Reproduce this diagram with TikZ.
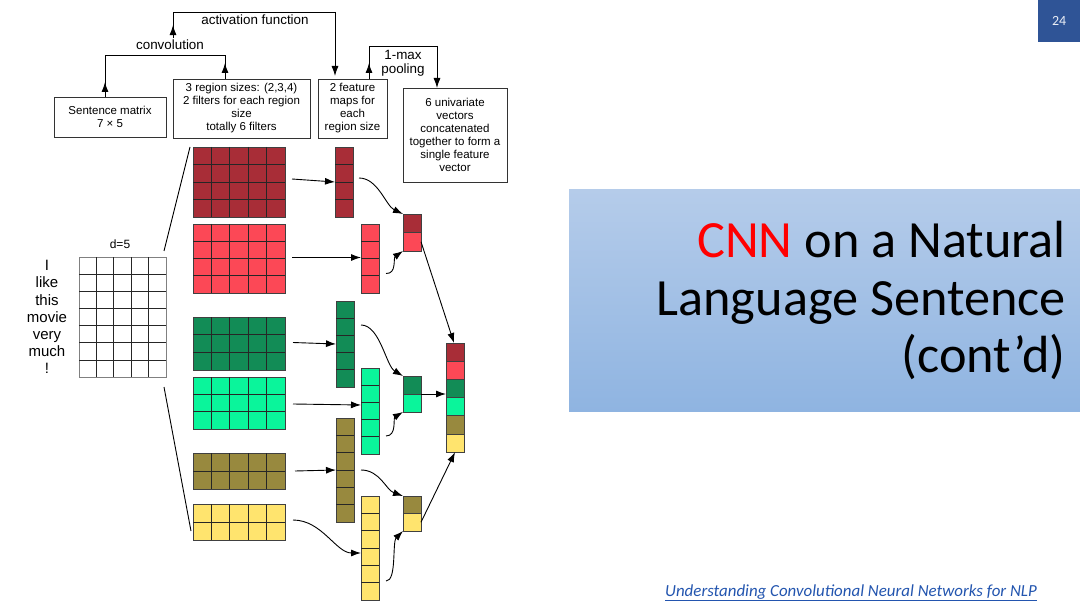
\documentclass[tikz,border=0pt]{standalone}
\usepackage{fontspec}
\setmainfont{Liberation Sans}
\newfontfamily\calib{Carlito}
\usetikzlibrary{arrows.meta,calc,shadings}
\definecolor{dred}{RGB}{168,45,55}
\definecolor{lred}{RGB}{252,72,86}
\definecolor{dgreen}{RGB}{18,140,86}
\definecolor{lgreen}{RGB}{10,245,155}
\definecolor{olive}{RGB}{152,137,62}
\definecolor{yell}{RGB}{255,228,110}
\definecolor{pnblue}{RGB}{47,84,150}
\definecolor{boxtop}{RGB}{181,204,234}
\definecolor{boxbot}{RGB}{143,180,225}
\definecolor{linkblue}{RGB}{35,85,175}
\definecolor{cnnred}{RGB}{255,0,0}
\newcommand\boxfont{\fontsize{11.5}{13}\selectfont}
\newcommand\lblfont{\fontsize{13.4}{17}\selectfont}
\newcommand\titlefont{\calib\fontsize{52.3}{57}\selectfont}
\newcommand\linkfont{\calib\itshape\fontsize{16.9}{19}\selectfont}
\newcommand\rowsplit[2]{\foreach \k in {1,...,#2}{\ifnum\k<#2\relax
  \draw[cellline] ($(#1.north west)!\k/#2!(#1.south west)$) -- ($(#1.north east)!\k/#2!(#1.south east)$);\fi}}
\newcommand\colsplit[2]{\foreach \k in {1,...,#2}{\ifnum\k<#2\relax
  \draw[cellline] ($(#1.north west)!\k/#2!(#1.north east)$) -- ($(#1.south west)!\k/#2!(#1.south east)$);\fi}}
\begin{document}
\begin{tikzpicture}[x=1pt,y=-1pt,
  box/.style={draw=black!80, line width=0.8pt, align=center, inner sep=0pt, outer sep=0pt, anchor=north west, font=\boxfont},
  lbl/.style={font=\lblfont, inner sep=2pt, align=center},
  conn/.style={draw=black, line width=0.9pt},
  arr/.style={conn, -{Latex[length=10pt,width=7pt]}},
  cellbox/.style={draw=black!75, line width=0.8pt, inner sep=0pt, outer sep=0pt, anchor=north west},
  cellline/.style={black!85, line width=0.7pt},
  fcell/.style={cellbox, minimum width=92pt},
  mcell/.style={cellbox, minimum width=18pt}
]
\useasboundingbox (0,0) rectangle (1080,607);
\fill[white] (0,0) rectangle (1080,607);

% ---- right side: page number, title, link
\node[anchor=north west, fill=pnblue, minimum width=42pt, minimum height=42pt, inner sep=0pt,
  font=\calib\fontsize{14}{16}\selectfont, text=white!90!pnblue] (pn) at (1038,0) {24};
\node[anchor=north west, minimum width=511pt, minimum height=222pt, inner sep=0pt,
  top color=boxtop, bottom color=boxbot] (tbox) at (569,189) {};
\node[anchor=base east, inner sep=0pt, font=\titlefont] (t1) at (1066,258) {\textcolor{cnnred}{CNN} on a Natural};
\node[anchor=base east, inner sep=0pt, font=\titlefont] (t2) at (1066,315) {Language Sentence};
\node[anchor=base east, inner sep=0pt, font=\titlefont] (t3) at (1066,372) {(cont’d)};
\node[anchor=base west, inner sep=0pt, font=\linkfont, text=linkblue] (link) at (665,596)
  {\underline{Understanding Convolutional Neural Networks for NLP}};

% ---- top boxes and labels
\node[box, minimum width=112pt, minimum height=40pt] (sm) at (54,97) {Sentence matrix\\7 × 5};
\node[box, minimum width=137pt, minimum height=59pt] (rb) at (173,79) {3 region sizes: (2,3,4)\\2 filters for each region\\size\\totally 6 filters};
\node[box, minimum width=69pt, minimum height=59pt] (fm) at (318,79) {2 feature\\maps for\\each\\region size};
\node[box, minimum width=104pt, minimum height=94pt] (uv) at (403,88) {6 univariate\\vectors\\concatenated\\together to form a\\single feature\\vector};
\node[lbl, anchor=base] (conv) at (170,50) {convolution};
\node[lbl, anchor=base] (act) at (255,25) {activation function};
\node[lbl, anchor=base] (pool1) at (403,60) {1-max};
\node[lbl, anchor=base] (pool2) at (403,74) {pooling};

\coordinate (cvL) at (105,55);
\coordinate (cvR) at (225,55);
\draw[conn] (sm.north -| cvL) -- (cvL) -- (cvR) -- (rb.north -| cvR);
\draw[arr] (sm.north -| cvL) -- ++(0,-15);
\draw[arr] (rb.north -| cvR) -- ++(0,-16);

\coordinate (afL) at (173,12);
\coordinate (afR) at (335,12);
\draw[conn] (conv.north -| afL) -- (afL) -- (afR);
\draw[arr] (afR) -- ($(fm.north -| afR)+(0,-3)$);
\draw[arr] (conv.north -| afL) -- ++(0,-13);

\coordinate (mpL) at (369,46);
\coordinate (mpR) at (437,46);
\draw[conn] (fm.north -| mpL) -- (mpL) -- (mpR);
\draw[arr] (mpR) -- (uv.north -| mpR);
\draw[arr] (fm.north -| mpL) -- ++(0,-16);

% ---- sentence matrix
\node[cellbox, draw=gray, fill=white, minimum width=87pt, minimum height=120pt] (smat) at (79,257) {};
\rowsplit{smat}{7}\colsplit{smat}{5}
\node[font=\fontsize{15}{17.1}\selectfont, align=center, inner sep=0pt] (words) at (47,317) {I\\like\\this\\movie\\very\\much\\!};
\node[font=\fontsize{12}{14}\selectfont, inner sep=0pt] (dlab) at (120,244) {d=5};

% ---- filters
\node[fcell, fill=dred, minimum height=70pt] (f1) at (193,147) {};
\node[fcell, fill=lred, minimum height=69pt] (f2) at (193,224) {};
\node[fcell, fill=dgreen, minimum height=53pt] (f3) at (193,317) {};
\node[fcell, fill=lgreen, minimum height=52pt] (f4) at (193,377) {};
\node[fcell, fill=olive, minimum height=36pt] (f5) at (193,453) {};
\node[fcell, fill=yell, minimum height=36pt] (f6) at (193,504) {};
\rowsplit{f1}{4}\colsplit{f1}{5}
\rowsplit{f2}{4}\colsplit{f2}{5}
\rowsplit{f3}{3}\colsplit{f3}{5}
\rowsplit{f4}{3}\colsplit{f4}{5}
\rowsplit{f5}{2}\colsplit{f5}{5}
\rowsplit{f6}{2}\colsplit{f6}{5}

\draw[conn] ($(smat.north east)+(-2,-6)$) -- ($(f1.north west)+(-3,0)$);
\draw[conn] ($(smat.south east)+(-2,10)$) -- ($(f6.south west)+(-2,-9)$);

% ---- feature maps
\node[mcell, fill=dred, minimum height=70pt] (m1) at (335,147) {};
\node[mcell, fill=lred, minimum height=69pt] (m2) at (361,224) {};
\node[mcell, fill=dgreen, minimum height=86pt] (m3) at (336,301) {};
\node[mcell, fill=lgreen, minimum height=86pt] (m4) at (361,368) {};
\node[mcell, fill=olive, minimum height=104pt] (m5) at (336,418) {};
\node[mcell, fill=yell, minimum height=104pt] (m6) at (361,496) {};
\rowsplit{m1}{4}\rowsplit{m2}{4}\rowsplit{m3}{5}\rowsplit{m4}{5}\rowsplit{m5}{6}\rowsplit{m6}{6}

\draw[arr] ($(f1.east)+(7,-3)$) -- (m1.west);
\draw[arr] ($(f2.east)+(7,-1)$) -- ($(m2.west)+(0,-1)$);
\draw[arr] ($(f3.east)+(8,-1)$) -- (m3.west);
\draw[arr] ($(f4.east)+(8,1)$) -- ($(m4.west)+(0,-6)$);
\draw[arr] ($(f5.east)+(10,0)$) -- (m5.west);
\draw[arr] ($(f6.east)+(8,-2)$) .. controls (322,520) and (336,553) .. ($(m6.west)+(0,5)$);

% ---- pooled
\node[mcell, fill=dred, minimum height=18.5pt] (p1a) at (403,214) {};
\node[mcell, fill=lred, minimum height=18.5pt] (p1b) at (403,232.5) {};
\node[mcell, fill=dgreen, minimum height=18pt] (p2a) at (403,376) {};
\node[mcell, fill=lgreen, minimum height=18pt] (p2b) at (403,394) {};
\node[mcell, fill=olive, minimum height=17.5pt] (p3a) at (403,496) {};
\node[mcell, fill=yell, minimum height=17.5pt] (p3b) at (403,513.5) {};

\draw[arr] ($(m1.east)+(6,-4)$) .. controls (378,178) and (386,206) .. (p1a.north west);
\draw[arr] ($(m2.east)+(7,15)$) .. controls (397,274) and (393,258) .. (p1b.south west);
\draw[arr] ($(m3.east)+(7,-19)$) .. controls (380,325) and (386,366) .. (p2a.north west);
\draw[arr] ($(m4.east)+(7,25)$) .. controls (397,436) and (393,418) .. (p2b.south west);
\draw[arr] ($(m5.east)+(7,0)$) .. controls (380,470) and (386,490) .. (p3a.north west);
\draw[arr] ($(m6.east)+(7,33)$) .. controls (397,581) and (392,542) .. (p3b.south west);

% ---- final vector
\node[mcell, fill=dred, minimum height=18.2pt] (v1) at (446,343) {};
\node[mcell, fill=lred, minimum height=18.2pt] (v2) at (446,361.2) {};
\node[mcell, fill=dgreen, minimum height=18.2pt] (v3) at (446,379.4) {};
\node[mcell, fill=lgreen, minimum height=18.2pt] (v4) at (446,397.6) {};
\node[mcell, fill=olive, minimum height=18.2pt] (v5) at (446,415.8) {};
\node[mcell, fill=yell, minimum height=18.2pt] (v6) at (446,434) {};

\draw[arr] (p1b.east) -- ($(v1.north)+(-1,0)$);
\draw[arr] (p2a.south east) -- (p2a.south east -| v3.west);
\draw[arr] (p3b.east) -- (v6.south);
\end{tikzpicture}
\end{document}
